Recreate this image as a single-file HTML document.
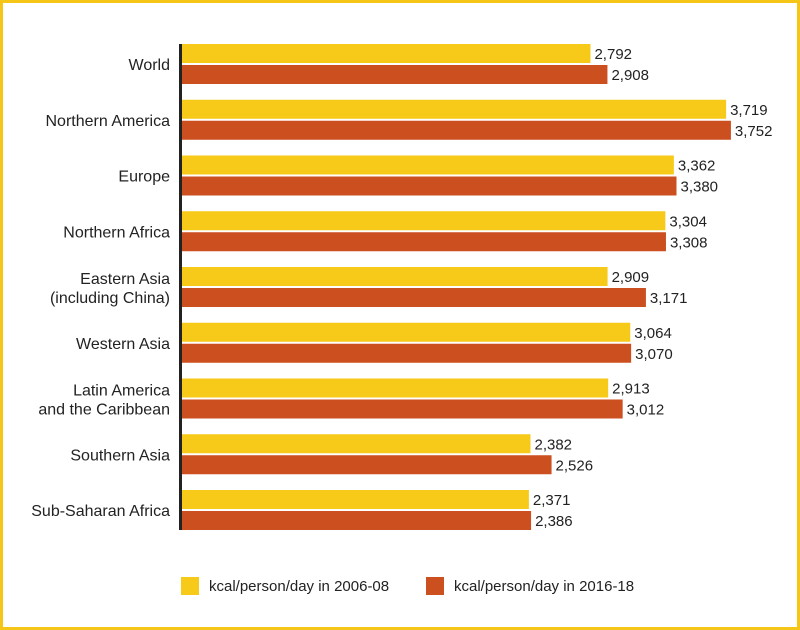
<!DOCTYPE html>
<html><head><meta charset="utf-8"><style>
html,body{margin:0;padding:0;background:#fff}
#wrap{position:relative;width:800px;height:630px;box-sizing:border-box;border:3px solid #f5c518;background:#fff;overflow:hidden}
svg{position:absolute;left:-3px;top:-3px}
text{font-family:"Liberation Sans",sans-serif;fill:#222}
</style></head><body>
<div id="wrap">
<svg id="chart" width="800" height="630"></svg>
</div>
<script>
const categories=[["World"],["Northern America"],["Europe"],["Northern Africa"],["Eastern Asia","(including China)"],["Western Asia"],["Latin America","and the Caribbean"],["Southern Asia"],["Sub-Saharan Africa"]];
const values2006=[2792,3719,3362,3304,2909,3064,2913,2382,2371];
const values2016=[2908,3752,3380,3308,3171,3070,3012,2526,2386];
const seriesNames=["kcal/person/day in 2006-08","kcal/person/day in 2016-18"];
const colors=["#f7c919","#cb4f1f"];
const NS="http://www.w3.org/2000/svg";
const svg=document.getElementById("chart");
const x0=182,k=0.1463;
function xs(v){return x0+v*k;}
function yg(i){return 44+i*55.75;}
function el(t,a,txt){const e=document.createElementNS(NS,t);for(const n in a)e.setAttribute(n,a[n]);if(txt!=null)e.textContent=txt;svg.appendChild(e);return e;}
const fmt=v=>v.toLocaleString("en-US");
categories.forEach((c,i)=>{
  const y=yg(i);
  [values2006,values2016].forEach((arr,s)=>{
    const by=y+s*21;
    const r=el("rect",{x:x0,y:by,width:xs(arr[i])-x0,height:19,fill:colors[s]});
    
    
    const t=el("text",{x:xs(arr[i])+4,y:by+15,"font-size":"15"},fmt(arr[i]));
    
    
  });
  const ly=c.length===1?y+26:y+17;
  c.forEach((line,j)=>{
    const t=el("text",{x:170,y:ly+j*19,"font-size":"16","text-anchor":"end"},line);
    
    
  });
});
const ax=el("rect",{x:179,y:44,width:3,height:486,fill:"#222"});


[[181,209],[426,454]].forEach((p,s)=>{
  const r=el("rect",{x:p[0],y:577,width:18,height:18,fill:colors[s]});
  
  
  const t=el("text",{x:p[1],y:591,"font-size":"15"},seriesNames[s]);
  
  
});
</script>
</body></html>
